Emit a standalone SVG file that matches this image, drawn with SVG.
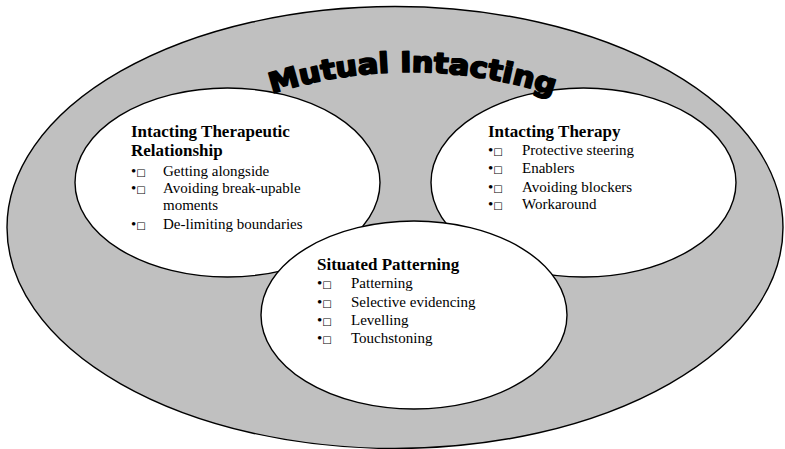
<svg xmlns="http://www.w3.org/2000/svg" xmlns:xlink="http://www.w3.org/1999/xlink" width="785" height="449" viewBox="0 0 785 449">
<style>
.bg{fill:#ffffff}
.outer{fill:#c0c0c0;stroke:#000;stroke-width:1.4}
.inner{fill:#ffffff;stroke:#000;stroke-width:1.4}
.h{font-family:"Liberation Serif","Times New Roman",serif;font-weight:bold;font-size:17px;fill:#000}
.t{font-family:"Liberation Serif","Times New Roman",serif;font-size:15px;fill:#000}
.box{font-family:"DejaVu Sans",sans-serif;font-size:10px}
.title{font-family:"DejaVu Sans","Liberation Sans",sans-serif;font-weight:bold;font-size:28px;fill:#000;stroke:#000;stroke-width:1.8;stroke-linejoin:round}
</style>
<defs>
<path id="arc" d="M265,96 A450,450 0 0 1 560,97.7"/>
</defs>
<rect class="bg" x="0" y="0" width="785" height="449"/>
<g id="outer">
<ellipse class="outer" cx="395" cy="227.5" rx="388" ry="221"/>
</g>
<g id="connectors"></g>
<g id="node-relationship">
<ellipse class="inner" cx="227.5" cy="182.5" rx="152.5" ry="94.5"/>
<text class="h" x="131" y="137">Intacting Therapeutic</text>
<text class="h" x="131" y="156">Relationship</text>
<text class="t" x="131" y="176">•<tspan class="box">□</tspan></text>
<text class="t" x="163" y="176">Getting alongside</text>
<text class="t" x="131" y="193">•<tspan class="box">□</tspan></text>
<text class="t" x="163" y="193">Avoiding break-upable</text>
<text class="t" x="163" y="210">moments</text>
<text class="t" x="131" y="229">•<tspan class="box">□</tspan></text>
<text class="t" x="163" y="229">De-limiting boundaries</text>
</g>
<g id="node-therapy">
<ellipse class="inner" cx="583.5" cy="182.5" rx="152.5" ry="94.5"/>
<text class="h" x="488" y="137">Intacting Therapy</text>
<text class="t" x="488" y="155">•<tspan class="box">□</tspan></text>
<text class="t" x="522" y="155">Protective steering</text>
<text class="t" x="488" y="173">•<tspan class="box">□</tspan></text>
<text class="t" x="522" y="173">Enablers</text>
<text class="t" x="488" y="192">•<tspan class="box">□</tspan></text>
<text class="t" x="522" y="192">Avoiding blockers</text>
<text class="t" x="488" y="209">•<tspan class="box">□</tspan></text>
<text class="t" x="522" y="209">Workaround</text>
</g>
<g id="node-patterning">
<ellipse class="inner" cx="414" cy="315" rx="153" ry="94"/>
<text class="h" x="317" y="270">Situated Patterning</text>
<text class="t" x="317" y="288">•<tspan class="box">□</tspan></text>
<text class="t" x="351" y="288">Patterning</text>
<text class="t" x="317" y="307">•<tspan class="box">□</tspan></text>
<text class="t" x="351" y="307">Selective evidencing</text>
<text class="t" x="317" y="325">•<tspan class="box">□</tspan></text>
<text class="t" x="351" y="325">Levelling</text>
<text class="t" x="317" y="343">•<tspan class="box">□</tspan></text>
<text class="t" x="351" y="343">Touchstoning</text>
</g>
<g id="title">
<text class="title" text-anchor="middle"><textPath xlink:href="#arc" href="#arc" startOffset="50%" textLength="286" lengthAdjust="spacingAndGlyphs">Mutual Intacting</textPath></text>
</g>
</svg>
